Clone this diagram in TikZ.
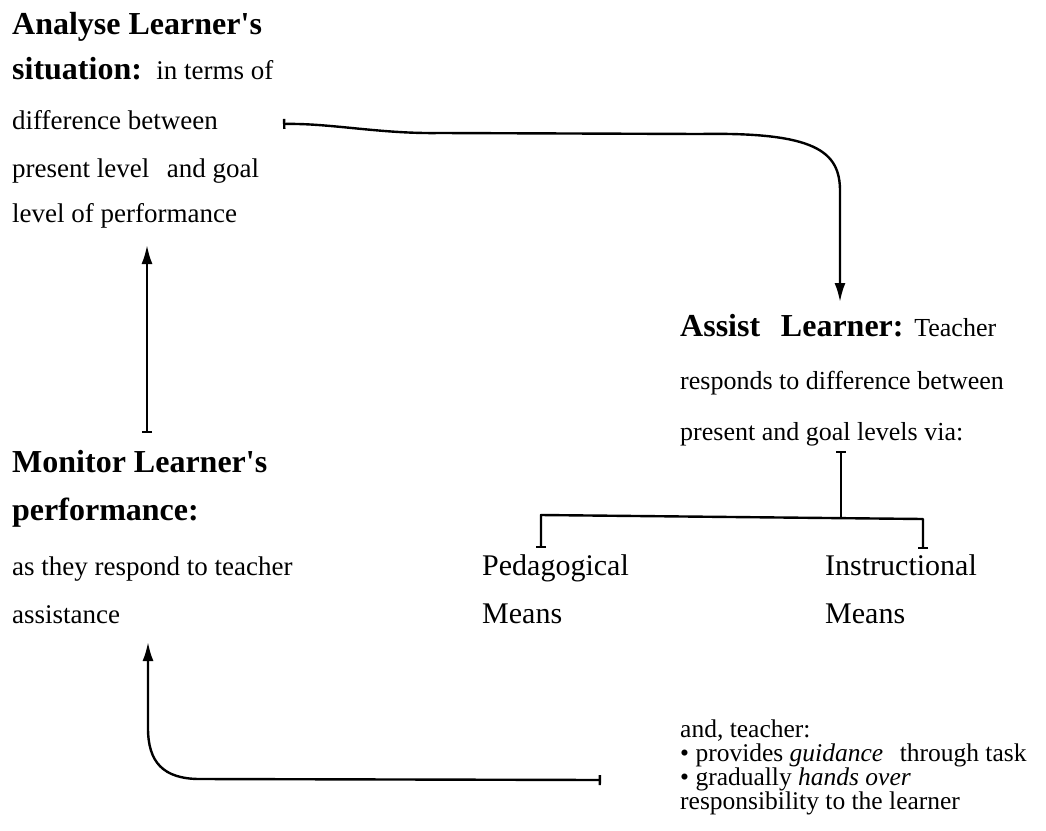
\documentclass[tikz,border=0pt]{standalone}
\usepackage{fontspec}
\setmainfont{Liberation Serif}[Ligatures=TeXOff]
\usetikzlibrary{arrows.meta,calc}

\begin{document}
\begin{tikzpicture}[x=1pt,y=-1pt,
  hd/.style={anchor=base west,inner sep=0pt,font=\fontsize{32}{38}\selectfont\bfseries},
  tx/.style={anchor=base west,inner sep=0pt,font=\fontsize{27}{32}\selectfont},
  md/.style={anchor=base west,inner sep=0pt,font=\fontsize{30}{34}\selectfont},
  sm/.style={anchor=base west,inner sep=0pt,text height=16pt,text depth=5pt,
    font=\fontsize{25.5}{23}\selectfont},
  link/.style={line width=2.4pt,line join=round,line cap=round},
  tee/.tip={Bar[width=10pt,line width=2.4pt]},
  head/.tip={Latex[length=19pt,width=11pt]}
]
\useasboundingbox[fill=white] (0,0) rectangle (1046,830);

% --- Analyse block ---
\node[hd] (a1) at (12,34)  {Analyse Learner's};
\node[hd] (a2) at (12,79)  {situation:\hspace{0.45em}{\mdseries\fontsize{27}{32}\selectfont in terms of}};
\node[tx] (a3) at (12,129) {difference between};
\node[tx] (a4) at (12,177) {present level\hspace{0.4em} and goal};
\node[tx] (a5) at (12,222) {level of performance};

% --- Monitor block ---
\node[hd] (m1) at (12,472) {Monitor Learner's};
\node[hd] (m2) at (12,520) {performance:};
\node[tx] (m3) at (12,575) {as they respond to teacher};
\node[tx] (m4) at (12,623) {assistance};

% --- Assist block ---
\node[hd] (s1) at (680,336) {Assist\hspace{0.4em} Learner: {\mdseries\fontsize{26}{30}\selectfont Teacher}};
\node[tx,font=\fontsize{26}{30}\selectfont] (s2) at (680,389) {responds to difference between};
\node[tx,font=\fontsize{26}{30}\selectfont] (s3) at (680,440) {present and goal levels via:};

% --- means ---
\node[md] (p1) at (482,575) {Pedagogical};
\node[md] (p2) at (482,623) {Means};
\node[md] (i1) at (825,575) {Instructional};
\node[md] (i2) at (825,623) {Means};

% --- teacher support notes ---
\node[sm] (g1) at (680,737) {and, teacher:};
\node[sm] (g2) at (680,761) {\textbullet{} provides \textit{guidance}\hspace{0.4em} through task};
\node[sm] (g3) at (680,785) {\textbullet{} gradually \textit{hands over}};
\node[sm] (g4) at (680,809) {responsibility to the learner};

% connector end points
\coordinate (c1) at (283,124);
\coordinate (c2) at (840,302);
\coordinate (c3) at (147,433);
\coordinate (c4) at (147,245);
\coordinate (c5) at (841,451);
\coordinate (c6) at (841,518);
\coordinate (c7) at (541,548);
\coordinate (c8) at (923,549);
\coordinate (c9) at (601,780);
\coordinate (c10) at (148,642);

% analyse -> assist
\draw[link,tee-head] (c1) .. controls (330,123) and (380,134) .. (440,133)
  -- (700,134) .. controls (815,132) and (840,151) .. (840,191) -- (c2);
% monitor -> analyse
\draw[link,tee-head] (c3) -- (c4);
% assist -> the two means
\draw[link,tee-] (c5) -- (c6);
\draw[link,tee-tee] (c7) -- (541,515) -- (923,519) -- (c8);
% teacher support -> monitor
\draw[link,tee-head] (c9) -- (200,779) .. controls (163,779) and (148,762) .. (148,728) -- (c10);
\end{tikzpicture}
\end{document}
